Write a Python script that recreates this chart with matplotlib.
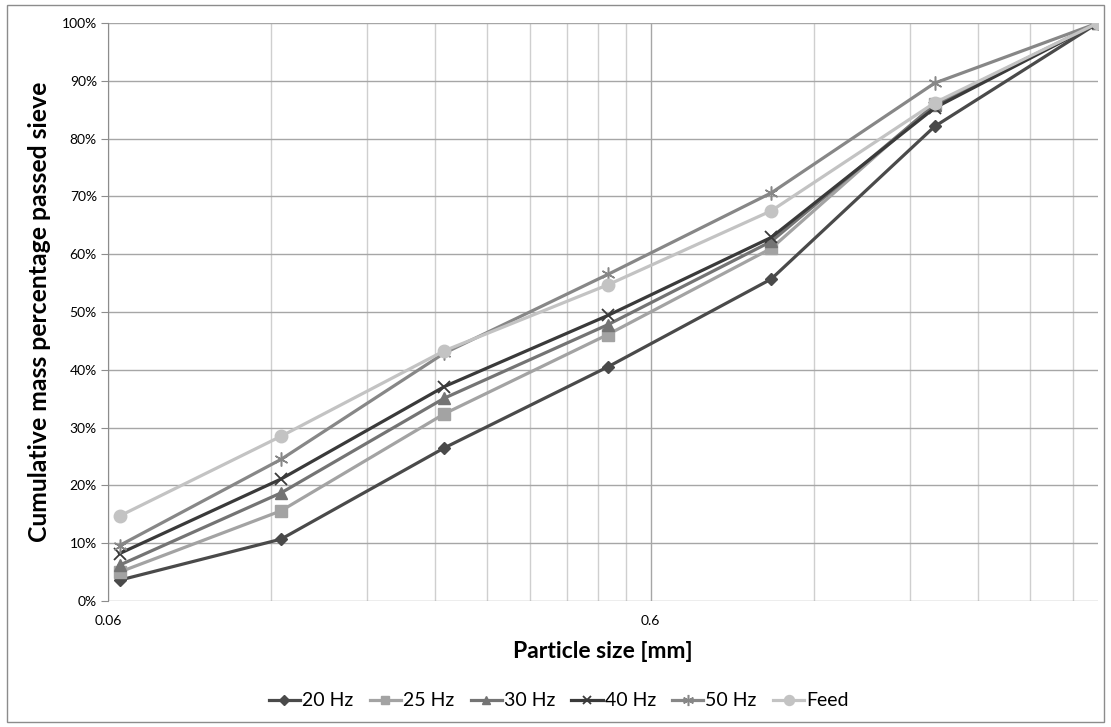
import matplotlib
matplotlib.use("Agg")
import matplotlib.pyplot as plt
from matplotlib.ticker import FixedLocator, FixedFormatter, NullFormatter
from matplotlib.patches import Rectangle

plt.rcParams['font.family'] = ['Lato', 'DejaVu Sans']

sizes = [0.063, 0.125, 0.25, 0.5, 1.0, 2.0, 4.0]
series_names = ["20 Hz", "25 Hz", "30 Hz", "40 Hz", "50 Hz", "Feed"]
hz20 = [3.6, 10.7, 26.5, 40.5, 55.7, 82.1, 100]
hz25 = [5.0, 15.6, 32.4, 46.1, 61.0, 86.0, 100]
hz30 = [6.2, 18.7, 35.1, 47.8, 62.2, 85.8, 100]
hz40 = [8.2, 21.1, 37.1, 49.4, 62.9, 85.3, 100]
hz50 = [9.6, 24.5, 42.9, 56.5, 70.6, 89.6, 100]
feed = [14.7, 28.5, 43.3, 54.7, 67.5, 86.2, 100]
x_major = [0.06, 0.6]
x_major_labels = ["0.06", "0.6"]
y_ticks = list(range(0, 101, 10))

data = [hz20, hz25, hz30, hz40, hz50, feed]
styles = [
    dict(color="#4a4a4a", marker="D", ms=6),
    dict(color="#a3a3a3", marker="s", ms=8),
    dict(color="#747474", marker="^", ms=8),
    dict(color="#3a3a3a", marker="x", ms=8, mew=1.3),
    dict(color="#878787", marker=(6, 2, 0), ms=10, mew=1.1),
    dict(color="#c3c3c3", marker="o", ms=9),
]

fig = plt.figure(figsize=(11.11, 7.27), dpi=100)
ax = fig.add_axes([108/1111, 1-601/727, (1098-108)/1111, (601-23)/727])

for name, vals, st in zip(series_names, data, styles):
    ax.plot(sizes, vals, label=name, lw=2.3, color=st["color"], marker=st["marker"],
            ms=st["ms"], mew=st.get("mew", 1.0), mfc=st["color"], mec=st["color"], zorder=3)

ax.set_xscale("log")
ax.set_xlim(0.06, 4.0)
ax.set_ylim(0, 100)

ax.xaxis.set_major_locator(FixedLocator(x_major))
ax.xaxis.set_major_formatter(FixedFormatter(x_major_labels))
minors = [0.06*k for k in range(2, 10)] + [0.6*k for k in range(2, 7)]
ax.xaxis.set_minor_locator(FixedLocator([m for m in minors if m <= 4.0]))
ax.xaxis.set_minor_formatter(NullFormatter())
ax.set_yticks(y_ticks)
ax.set_yticklabels([f"{v}%" for v in y_ticks])

ax.grid(True, which="major", axis="both", color="#a6a6a6", lw=1.0, zorder=0)
ax.grid(True, which="minor", axis="x", color="#cfcfcf", lw=1.0, zorder=0)

for s in ["top", "right", "bottom"]:
    ax.spines[s].set_visible(False)
ax.spines["left"].set_color("#8c8c8c")
ax.tick_params(axis="y", which="major", length=5, color="#8c8c8c", labelsize=10, pad=3)
ax.tick_params(axis="x", which="major", length=0, labelsize=10, pad=10)
ax.tick_params(axis="x", which="minor", length=0)

ax.set_xlabel("Particle size [mm]", fontsize=16.5, fontweight="bold", labelpad=10)
ax.set_ylabel("Cumulative mass percentage passed sieve", fontsize=17.8, fontweight="bold", labelpad=8)

leg = fig.legend(*ax.get_legend_handles_labels(), loc="center", bbox_to_anchor=(0.503, 1-701/727),
                 ncol=6, frameon=False, fontsize=14, handlelength=1.6, columnspacing=0.85,
                 handletextpad=0.1, markerscale=0.8)

fig.patches.append(Rectangle((7/1111, 1-722/727), (1104-7)/1111, (722-5)/727,
                             transform=fig.transFigure, fill=False, edgecolor="#8c8c8c", lw=1.0))

fig.savefig("out.png", dpi=100)
